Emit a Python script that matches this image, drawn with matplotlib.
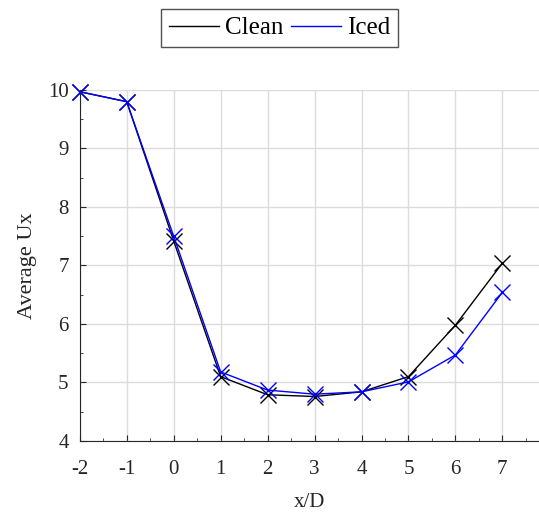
import matplotlib
matplotlib.use('Agg')
import matplotlib.pyplot as plt
from matplotlib.ticker import MultipleLocator

plt.rcParams['font.family'] = ['Liberation Serif', 'DejaVu Serif']
plt.rcParams['axes.unicode_minus'] = False

xD = [-2, -1, 0, 1, 2, 3, 4, 5, 6, 7]
clean = [9.97, 9.80, 7.42, 5.10, 4.79, 4.76, 4.84, 5.10, 5.98, 7.04]
iced = [9.97, 9.80, 7.50, 5.18, 4.87, 4.80, 4.84, 5.01, 5.47, 6.54]

fig = plt.figure(figsize=(5.39, 5.13), dpi=100)
ax = fig.add_axes([0.148, 0.1404, 0.852, 0.6842])

ax.plot(xD, clean, color='black', marker='x', ms=12, mew=1.0, lw=1.0, label='Clean', clip_on=False)
ax.plot(xD, iced, color='blue', marker='x', ms=12, mew=1.0, lw=1.0, label='Iced', clip_on=False)

ax.set_xlim(-2, 7.78)
ax.set_ylim(4, 10)
ax.set_xticks(range(-2, 8))
ax.set_yticks(range(4, 11))
ax.xaxis.set_minor_locator(MultipleLocator(0.5))
ax.yaxis.set_minor_locator(MultipleLocator(0.5))
ax.grid(True, color='#dcdcdc', lw=1.0)
ax.set_axisbelow(True)
for s in ['top', 'right']:
    ax.spines[s].set_visible(False)
for s in ['left', 'bottom']:
    ax.spines[s].set_color('#262626')
ax.tick_params(which='both', direction='in', colors='#262626', labelsize=15)
ax.tick_params(which='major', length=4)
ax.tick_params(which='minor', length=2.5)
ax.tick_params(axis='x', which='major', pad=14)
ax.tick_params(axis='y', which='major', pad=8)

ax.set_xlabel('x/D', fontsize=15, color='#262626', labelpad=10)
ax.set_ylabel('Average Ux', fontsize=16, color='#262626', labelpad=8)

leg = fig.legend(loc='center', bbox_to_anchor=(0.519, 0.945), ncol=2, fontsize=18,
                 frameon=True, fancybox=False, edgecolor='#262626',
                 handlelength=2.0, handletextpad=0.25, columnspacing=0.3,
                 borderpad=0.3, borderaxespad=0)
leg.get_frame().set_linewidth(1.0)
for h in leg.legend_handles:
    h.set_marker('')

fig.savefig('out.png', dpi=100)
